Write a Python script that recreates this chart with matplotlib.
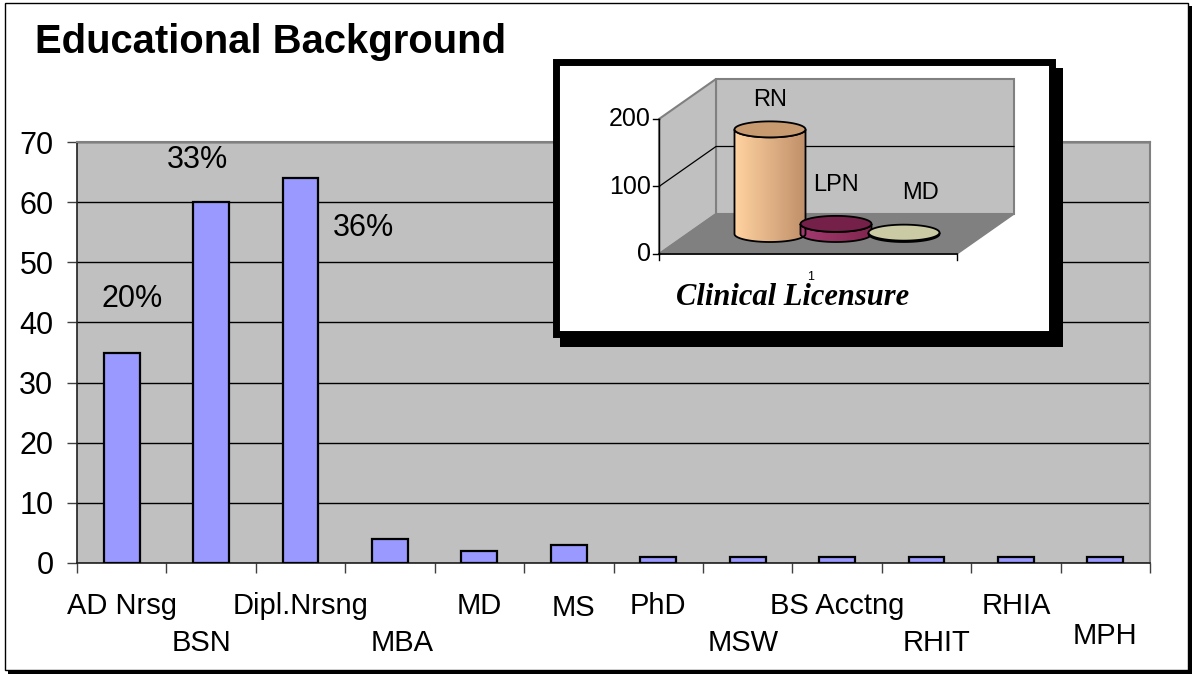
import numpy as np
import matplotlib
matplotlib.use("Agg")
import matplotlib.pyplot as plt
from matplotlib.patches import Rectangle, Polygon
from matplotlib.colors import LinearSegmentedColormap

plt.rcParams['font.family'] = ['Liberation Sans', 'DejaVu Sans']

# ---------------- data ----------------
categories = ["AD Nrsg", "BSN", "Dipl.Nrsng", "MBA", "MD", "MS", "PhD", "MSW",
              "BS Acctng", "RHIT", "RHIA", "MPH"]
counts = [35, 60, 64, 4, 2, 3, 1, 1, 1, 1, 1, 1]
pct_labels = ["20%", "33%", "36%"]

lic_categories = ["RN", "LPN", "MD"]
lic_values = [155, 15, 2]
lic_ticks = [0, 100, 200]

W, H = 1194, 679
fig = plt.figure(figsize=(W / 100, H / 100), dpi=100)


def fbox(x0, y0, x1, y1):
    """pixel box (top-left origin) -> figure fraction rect"""
    return [x0 / W, 1 - y1 / H, (x1 - x0) / W, (y1 - y0) / H]


# outer frame with small shadow
fig.patches.append(Rectangle((8 / W, 1 - 674 / H), 1184 / W, 668 / H,
                             transform=fig.transFigure, facecolor='black',
                             edgecolor='none', zorder=-2))
fig.patches.append(Rectangle((5 / W, 1 - 670 / H), 1183 / W, 667 / H,
                             transform=fig.transFigure, facecolor='white',
                             edgecolor='black', lw=1.0, zorder=-1))

# title
fig.text(35 / W, 1 - 53 / H, "Educational Background", fontsize=28.8,
         fontweight='bold', ha='left', va='baseline', zorder=2)

# ---------------- main chart ----------------
ax = fig.add_axes(fbox(77, 142, 1150, 563))
ax.set_zorder(1)
ax.set_facecolor('#C0C0C0')
x = np.arange(len(categories))
ax.bar(x, counts, width=0.4, color='#9999FF', edgecolor='black', lw=1.6,
       zorder=3)
ax.set_xlim(-0.5, len(categories) - 0.5)
ax.set_ylim(0, 70)
ax.set_yticks(np.arange(0, 71, 10))
ax.yaxis.grid(True, color='black', lw=1.0, zorder=1)
ax.set_axisbelow(True)
ax.tick_params(axis='y', direction='out', length=7, width=1, pad=10,
               labelsize=22, color='#404040')
ax.set_xticks(np.arange(-0.5, len(categories), 1.0))
ax.set_xticklabels([])
ax.tick_params(axis='x', direction='out', length=7.5, width=1,
               color='#404040')
for s in ['top', 'right']:
    ax.spines[s].set_color('#808080')
    ax.spines[s].set_linewidth(1.5)
for s in ['left', 'bottom']:
    ax.spines[s].set_color('#202020')
    ax.spines[s].set_linewidth(1.2)

# staggered category labels (upper / lower row, as in the original)
UP, LOW = 606, 643
label_rows = [UP, LOW, UP, LOW, UP, 608, UP, LOW, UP, LOW, UP, 636]
label_dx = [0, -10, 0, 12, 0, 5, 0, -4, 0, 10, 0, 0]
for i, (lab, py, dx) in enumerate(zip(categories, label_rows, label_dx)):
    ax.text(i + dx / 89.4, (563 - py) / 421, lab,
            transform=ax.get_xaxis_transform(),
            ha='center', va='center', fontsize=21, clip_on=False)

# percentage annotations
pct_pos = [(0.12, 43.9), (0.85, 67.0), (2.7, 55.7)]
for lab, (px, py) in zip(pct_labels, pct_pos):
    ax.text(px, py, lab, ha='center', va='center', fontsize=22, zorder=5)

# ---------------- inset box ----------------
fig.patches.append(Rectangle((560 / W, 1 - 347 / H), 503 / W, 279 / H,
                             transform=fig.transFigure, facecolor='black',
                             edgecolor='none', zorder=5))
fig.patches.append(Rectangle((555.5 / W, 1 - 333.5 / H), 496 / W, 272 / H,
                             transform=fig.transFigure, facecolor='white',
                             edgecolor='black', lw=5, zorder=5.1))

# pseudo-3D inset chart
ia = fig.add_axes(fbox(620, 60, 1030, 320))
ia.set_zorder(6)
ia.set_xlim(0, 410)
ia.set_ylim((254 - 320) / 0.675, (254 - 60) / 0.675)
ia.axis('off')
ia.patch.set_alpha(0)

DX, DY = 57.0, 40 / 0.675
X0, X1 = 39.0, 337.0
VMAX = lic_ticks[-1]
PXU = 1 / 0.675  # value units per pixel


def proj(xx, v, d):
    return (xx + DX * d, v + DY * d)


# walls and floor
floor = Polygon([proj(X0, 0, 0), proj(X1, 0, 0), proj(X1, 0, 1), proj(X0, 0, 1)],
                closed=True, facecolor='#808080', edgecolor='#808080', lw=1)
back = Polygon([proj(X0, 0, 1), proj(X1, 0, 1), proj(X1, VMAX, 1), proj(X0, VMAX, 1)],
               closed=True, facecolor='#C0C0C0', edgecolor='#808080', lw=1.5)
left = Polygon([proj(X0, 0, 0), proj(X0, 0, 1), proj(X0, VMAX, 1), proj(X0, VMAX, 0)],
               closed=True, facecolor='#C0C0C0', edgecolor='#808080', lw=1.5)
for p in (back, left, floor):
    ia.add_patch(p)
for t in lic_ticks[1:-1]:
    pts = [proj(X0, t, 0), proj(X0, t, 1), proj(X1, t, 1)]
    ia.plot([p[0] for p in pts], [p[1] for p in pts], color='black', lw=0.9)
# axes lines
ia.plot([X0, X0], [0, VMAX], color='black', lw=1)
ia.plot([X0, X1], [0, 0], color='black', lw=1.2)
for t in lic_ticks:
    ia.plot([X0 - 6, X0], [t, t], color='black', lw=1)
    ia.text(X0 - 8, t, str(t), ha='right', va='center', fontsize=18)
for xt in (X0, X1):
    ia.plot([xt, xt], [0, -9], color='black', lw=1)
ia.text((X0 + X1) / 2 + 3, -23 * PXU, "1", ha='center', va='center', fontsize=9)
ia.text((X0 + X1) / 2 - 15, -51 * PXU, "Clinical Licensure",
        ha='center', va='baseline', fontsize=22, fontweight='bold',
        style='italic', family=['Liberation Serif', 'DejaVu Serif'])

centers = [150, 216, 284]      # pixel-x centres (within inset) of the shapes
depth_v = 20 * PXU             # shapes sit at mid depth (20 px up)
side_cols = [('#FFD2A0', '#C0906A'), ('#A33A6E', '#80264F'), ('#D4D4A8', '#B8B88C')]
top_cols = ['#C89A70', '#742048', '#CACAA4']
label_off = [(0, 29), (0, 39), (16, 40)]
A, B = 35.5, 8 * PXU
for cx, h, (c1, c2), tc, lab, (ldx, ldy) in zip(centers, lic_values, side_cols,
                                                top_cols, lic_categories, label_off):
    th_f = np.linspace(np.pi, 2 * np.pi, 40)
    bx = cx + A * np.cos(th_f)
    by = depth_v + B * np.sin(th_f)
    tx = bx[::-1]
    ty = h + depth_v + B * np.sin(th_f[::-1])
    outline = np.column_stack([np.r_[bx, tx], np.r_[by, ty]])
    ia.add_patch(Polygon(outline, closed=True, facecolor='none',
                         edgecolor='black', lw=1.3, zorder=4))
    cmap = LinearSegmentedColormap.from_list('g', [c1, c2])
    grad = np.linspace(0, 1, 64).reshape(1, -1)
    im = ia.imshow(grad, cmap=cmap, aspect='auto', zorder=3,
                   extent=[bx.min(), bx.max(), by.min() - 1, ty.max() + 1])
    clip = Polygon(outline, closed=True, transform=ia.transData,
                   facecolor='none', edgecolor='none')
    ia.add_patch(clip)
    im.set_clip_path(clip)
    th = np.linspace(0, 2 * np.pi, 60)
    ex = cx + A * np.cos(th)
    ey = h + depth_v + B * np.sin(th)
    ia.add_patch(Polygon(np.column_stack([ex, ey]), closed=True, facecolor=tc,
                         edgecolor='black', lw=1.3, zorder=5))
    ia.text(cx + ldx, h + depth_v + ldy * PXU, lab, ha='center', va='center',
            fontsize=17, zorder=6)

fig.savefig("out.png", dpi=100)
